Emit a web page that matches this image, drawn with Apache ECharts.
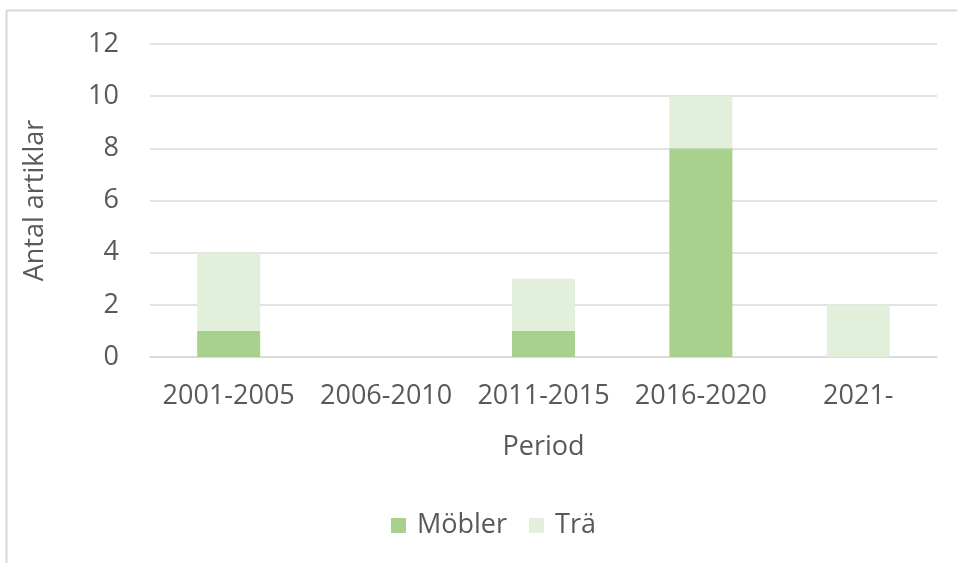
<!DOCTYPE html>
<html><head><meta charset="utf-8">
<script src="https://cdn.jsdelivr.net/npm/echarts@6/dist/echarts.min.js"></script>
<style>html,body{margin:0;padding:0;background:#fff}#c{width:957px;height:563px}</style>
</head><body><div id="c"></div>
<script>
const categories = ['2001-2005', '2006-2010', '2011-2015', '2016-2020', '2021-'];
const mobler = [1, 0, 1, 8, 0];
const tra = [3, 0, 2, 2, 2];
const yTicks = [0, 2, 4, 6, 8, 10, 12];

const font = '"Open Sans", "Noto Sans", sans-serif';
const txt = '#595959';
const fs = 27;
const chart = echarts.init(document.getElementById('c'), null, {renderer: 'canvas'});
chart.setOption({
  animation: false,
  backgroundColor: '#fff',
  graphic: [{
    type: 'polyline', silent: true,
    shape: {points: [[6.5, 563], [6.5, 10.5], [957, 10.5]]},
    style: {stroke: '#d9d9d9', lineWidth: 2, fill: null}
  }],
  grid: {left: 150, right: 20, top: 44, bottom: 206},
  legend: {
    data: ['Möbler', 'Trä'], top: 507, left: 386,
    itemWidth: 15, itemHeight: 15, itemGap: 22, icon: 'rect',
    textStyle: {color: txt, fontSize: fs, fontFamily: font, padding: [0, 0, 0, 6]}
  },
  xAxis: {
    type: 'category', data: categories,
    name: 'Period', nameLocation: 'middle', nameGap: 77,
    nameTextStyle: {color: txt, fontSize: fs, fontFamily: font},
    axisLine: {show: true, lineStyle: {color: '#d9d9d9', width: 1.5}},
    axisTick: {show: false},
    axisLabel: {color: txt, fontSize: fs, fontFamily: font, margin: 26,
      interval: 0, hideOverlap: false}
  },
  yAxis: {
    type: 'value', min: 0, max: 12, interval: 2,
    name: 'Antal artiklar', nameLocation: 'middle', nameGap: 101, nameRotate: 90,
    nameTextStyle: {color: txt, fontSize: fs, fontFamily: font},
    axisLine: {show: false}, axisTick: {show: false},
    splitLine: {lineStyle: {color: '#d9d9d9', width: 1.5}},
    axisLabel: {color: txt, fontSize: fs, fontFamily: font, margin: 31,
      formatter: v => yTicks.includes(v) ? String(v) : ''}
  },
  series: [
    {name: 'Möbler', type: 'bar', stack: 's', data: mobler, barWidth: 63,
     itemStyle: {color: '#a9d18e'}},
    {name: 'Trä', type: 'bar', stack: 's', data: tra, barWidth: 63,
     itemStyle: {color: '#e2efda'}}
  ]
});
</script></body></html>
